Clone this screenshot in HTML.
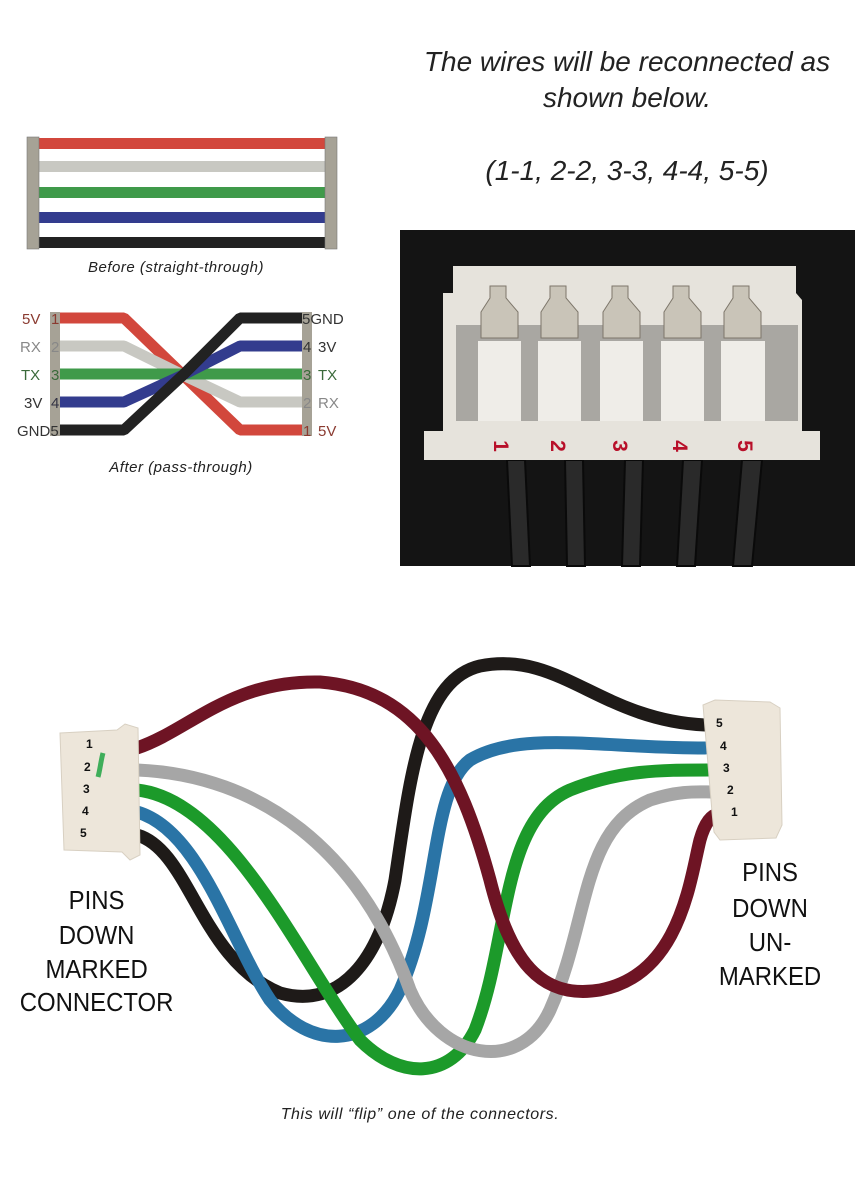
<!DOCTYPE html>
<html><head><meta charset="utf-8"><style>
html,body{margin:0;padding:0;background:#fff}
body{width:866px;height:1183px;position:relative;overflow:hidden;font-family:"Liberation Sans",sans-serif}
.t{position:absolute;font-style:italic;color:#222;white-space:nowrap}
</style></head><body>
<div class="t" style="left:380px;top:44px;width:494px;text-align:center;font-size:28px;line-height:36px">The wires will be reconnected as<br>shown below.</div>
<div class="t" style="left:380px;top:155px;width:494px;text-align:center;font-size:28px">(1-1, 2-2, 3-3, 4-4, 5-5)</div>

<svg width="866" height="1183" style="position:absolute;left:0;top:0" font-family="Liberation Sans, sans-serif">
<!-- Before -->
<rect x="39" y="138" width="286" height="11" fill="#d2473c"/>
<rect x="39" y="161" width="286" height="11" fill="#c8c8c2"/>
<rect x="39" y="187" width="286" height="11" fill="#3f9a4a"/>
<rect x="39" y="212" width="286" height="11" fill="#333c8e"/>
<rect x="39" y="237" width="286" height="11" fill="#222"/>
<rect x="27" y="137" width="12" height="112" fill="#a6a296" stroke="#777" stroke-width="0.6"/>
<rect x="325" y="137" width="12" height="112" fill="#a6a296" stroke="#777" stroke-width="0.6"/>
<text x="176" y="272" font-size="15" letter-spacing="0.5" font-style="italic" text-anchor="middle" fill="#222">Before (straight-through)</text>
<!-- After -->
<rect x="50" y="312" width="10" height="124" fill="#a6a296"/>
<rect x="302" y="312" width="10" height="124" fill="#a6a296"/>
<g stroke-width="11" fill="none" stroke-linejoin="bevel">
<polyline points="60,318 124,318 183,375 240,430 302,430" stroke="#d2473c"/>
<polyline points="60,346 124,346 183,375 240,402 302,402" stroke="#c8c8c2"/>
<polyline points="60,374 302,374" stroke="#3f9a4a"/>
<polyline points="60,402 124,402 183,375 240,346 302,346" stroke="#333c8e"/>
<polyline points="60,430 124,430 183,375 240,318 302,318" stroke="#222"/>
</g>
<g font-size="15" fill="#333">
<text x="22" y="324" fill="#8a3a30">5V</text><text x="51" y="324" fill="#8a3a30">1</text>
<text x="20" y="352" fill="#888">RX</text><text x="51" y="352" fill="#888">2</text>
<text x="21" y="380" fill="#3a6a3a">TX</text><text x="51" y="380" fill="#3a6a3a">3</text>
<text x="24" y="408" fill="#333">3V</text><text x="51" y="408" fill="#334">4</text>
<text x="17" y="436">GND5</text>
<text x="302" y="324">5GND</text>
<text x="303" y="352">4</text><text x="318" y="352">3V</text>
<text x="303" y="380" fill="#3a6a3a">3</text><text x="318" y="380" fill="#3a6a3a">TX</text>
<text x="303" y="408" fill="#888">2</text><text x="318" y="408" fill="#888">RX</text>
<text x="303" y="436" fill="#8a3a30">1</text><text x="318" y="436" fill="#8a3a30">5V</text>
</g>
<text x="181" y="472" font-size="15" letter-spacing="0.5" font-style="italic" text-anchor="middle" fill="#222">After (pass-through)</text>

<!-- Photo -->
<rect x="400" y="230" width="455" height="336" fill="#141414"/>
<g fill="#2a2a2a" stroke="#0a0a0a" stroke-width="2">
<path d="M507,460 L525,460 L530,566 L512,566Z"/>
<path d="M565,460 L583,460 L585,566 L567,566Z"/>
<path d="M625,460 L643,460 L640,566 L622,566Z"/>
<path d="M683,460 L702,460 L695,566 L677,566Z"/>
<path d="M742,460 L762,460 L752,566 L733,566Z"/>
</g>
<path d="M453,266 L796,266 L796,293 L802,300 L802,431 L820,431 L820,460 L424,460 L424,431 L443,431 L443,293 L453,293Z" fill="#e6e3dc"/>
<rect x="456" y="325" width="342" height="96" fill="#a9a7a2"/>
<g fill="#efede8">
<rect x="478" y="341" width="43" height="80"/><rect x="538" y="341" width="43" height="80"/>
<rect x="600" y="341" width="43" height="80"/><rect x="661" y="341" width="43" height="80"/>
<rect x="721" y="341" width="44" height="80"/>
</g>
<g fill="#c9c4b8" stroke="#7d766a" stroke-width="1">
<path d="M490,286 L506,286 L506,298 L518,312 L518,338 L481,338 L481,312 L490,298Z"/>
<path d="M550,286 L566,286 L566,298 L578,312 L578,338 L541,338 L541,312 L550,298Z"/>
<path d="M612,286 L628,286 L628,298 L640,312 L640,338 L603,338 L603,312 L612,298Z"/>
<path d="M673,286 L689,286 L689,298 L701,312 L701,338 L664,338 L664,312 L673,298Z"/>
<path d="M733,286 L749,286 L749,298 L761,312 L761,338 L724,338 L724,312 L733,298Z"/>
</g>
<g font-size="21" font-weight="bold" fill="#b8102a" text-anchor="middle">
<text transform="translate(501,446) rotate(90)" y="7">1</text>
<text transform="translate(558,446) rotate(90)" y="7">2</text>
<text transform="translate(620,446) rotate(90)" y="7">3</text>
<text transform="translate(680,446) rotate(90)" y="7">4</text>
<text transform="translate(745,446) rotate(90)" y="7">5</text>
</g>

<!-- Bottom cable -->
<g fill="none" stroke-width="13" stroke-linecap="round">
<path d="M137,835 C190,850 200,960 280,993 C340,1010 380,960 395,880 C410,780 420,680 480,666 C560,650 600,720 705,725" stroke="#1e1a18"/>
<path d="M137,812 C200,830 230,940 270,1000 C310,1050 370,1050 400,990 C440,900 430,790 470,760 C520,730 600,748 705,748" stroke="#2a74a6"/>
<path d="M137,790 C230,800 300,960 360,1040 C400,1080 450,1080 475,1030 C510,940 500,820 570,790 C620,770 660,770 708,770" stroke="#1c9a2a"/>
<path d="M137,770 C260,775 360,850 410,990 C440,1060 520,1075 550,1010 C590,920 580,830 650,800 C680,790 700,792 712,792" stroke="#a6a6a6"/>
<path d="M137,748 C190,730 230,680 320,682 C420,690 460,770 490,880 C510,960 540,1000 600,990 C680,975 690,880 700,840 C705,822 712,815 718,814" stroke="#6e1424"/>
</g>
<!-- left connector -->
<path d="M60,733 L117,730 L125,724 L138,728 L140,855 L130,860 L122,852 L64,850Z" fill="#ede6da" stroke="#d8d0c2" stroke-width="1"/>
<path d="M103,753 C101,760 100,770 98,777" stroke="#3fae5a" stroke-width="5" fill="none"/>
<g font-size="12" font-weight="bold" fill="#111">
<text x="86" y="748">1</text><text x="84" y="771">2</text><text x="83" y="793">3</text><text x="82" y="815">4</text><text x="80" y="837">5</text>
</g>
<!-- right connector -->
<path d="M703,705 L715,700 L770,702 L780,708 L782,825 L776,838 L720,840 L714,832 L712,812Z" fill="#ede6da" stroke="#d8d0c2" stroke-width="1"/>
<g font-size="12" font-weight="bold" fill="#111">
<text x="716" y="727">5</text><text x="720" y="750">4</text><text x="723" y="772">3</text><text x="727" y="794">2</text><text x="731" y="816">1</text>
</g>
<g font-size="26" fill="#111" text-anchor="middle" transform="scale(0.92,1)">
<text x="105" y="909">PINS</text><text x="105" y="944">DOWN</text><text x="105" y="978">MARKED</text><text x="105" y="1011">CONNECTOR</text>
<text x="837" y="881">PINS</text><text x="837" y="917">DOWN</text><text x="837" y="951">UN-</text><text x="837" y="985">MARKED</text>
</g>
<text x="420" y="1119" font-size="16" letter-spacing="0.6" font-style="italic" text-anchor="middle" fill="#222">This will “flip” one of the connectors.</text>
</svg>
</body></html>
